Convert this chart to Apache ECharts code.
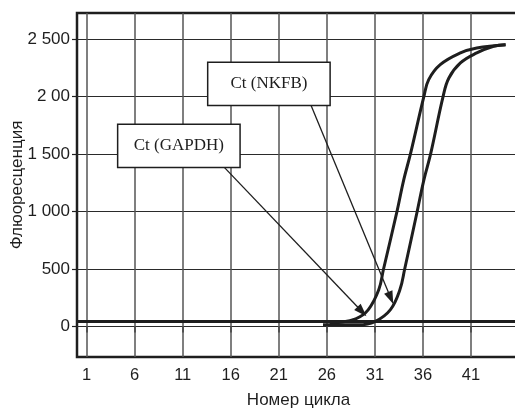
<!DOCTYPE html>
<html>
<head>
<meta charset="utf-8">
<script src="https://cdn.jsdelivr.net/npm/echarts@6/dist/echarts.min.js"></script>
<style>
  html, body { margin: 0; padding: 0; background: #fff; }
  #chart { width: 515px; height: 409px; }
</style>
</head>
<body>
<div id="chart"></div>
<script>
// Amplification curves: fluorescence versus PCR cycle number
const cycleTicks = [1, 6, 11, 16, 21, 26, 31, 36, 41];
const fluorTicks = [0, 500, 1000, 1500, 2000, 2500];
const fluorTickLabels = ['0', '500', '1 000', '1 500', '2 00', '2 500'];

// [cycle, fluorescence]
const gapdhCurve = [
  [26.3, 23], [26.9, 30], [29.0, 67], [30.3, 145], [31.4, 319], [31.9, 500],
  [33.3, 1000], [34.0, 1275], [34.7, 1500], [36.1, 2000], [36.6, 2146],
  [37.8, 2276], [39.9, 2378], [41.6, 2421], [44.6, 2450]
];
const nkfbCurve = [
  [25.6, 15], [29.3, 15], [31.0, 43], [32.6, 145], [33.6, 319], [34.1, 500],
  [35.4, 1000], [36.1, 1275], [36.8, 1500], [38.1, 2000], [38.7, 2160],
  [39.9, 2291], [41.6, 2378], [43.35, 2436], [44.6, 2450]
];

const thresholdLevel = 45;

// Callout labels: box corners and arrow endpoints in [cycle, fluorescence]
const calloutLabels = ['Ct (GAPDH)', 'Ct (NKFB)'];
const calloutBoxFrom = [[4.23, 1757], [13.6, 2296]];
const calloutBoxTo = [[16.97, 1383], [26.34, 1922]];
const arrowFrom = [[15.33, 1383], [24.36, 1922]];
const arrowTo = [[29.65, 130], [32.65, 247]];

const ink = '#1e1e1e';
const sans = 'Liberation Sans, Arial, sans-serif';

const chart = echarts.init(document.getElementById('chart'));

const curveStyle = { color: ink, width: 3 };

chart.setOption({
  animation: false,
  backgroundColor: '#fff',
  grid: {
    left: 77, right: -5, top: 13, bottom: 52,
    containLabel: false, outerBoundsMode: 'none',
    show: true, borderColor: ink, borderWidth: 2.5, backgroundColor: 'transparent'
  },
  xAxis: {
    type: 'value',
    min: 0, max: 46.1,
    name: 'Номер цикла',
    nameLocation: 'middle',
    nameGap: 35,
    nameMoveOverlap: false,
    nameTextStyle: { fontFamily: sans, fontSize: 17, color: ink },
    axisLine: { show: false },
    axisTick: { show: true, customValues: cycleTicks, length: 6, inside: false,
                lineStyle: { color: '#444', width: 1.5 } },
    axisLabel: { customValues: cycleTicks, fontFamily: sans, fontSize: 16.5, color: ink, margin: 10 },
    splitLine: { show: true, lineStyle: { color: '#555', width: 1.5 } }
  },
  yAxis: {
    type: 'value',
    min: -265, max: 2725,
    name: 'Флюоресценция',
    nameLocation: 'middle',
    nameGap: 51,
    nameMoveOverlap: false,
    nameTextStyle: { fontFamily: sans, fontSize: 17, color: ink },
    axisLine: { show: false },
    axisTick: { show: true, customValues: fluorTicks, length: 5, inside: false,
                lineStyle: { color: ink, width: 1.2 } },
    axisLabel: {
      customValues: fluorTicks, fontFamily: sans, fontSize: 17, color: ink, margin: 7,
      formatter: v => fluorTickLabels[fluorTicks.indexOf(v)]
    },
    splitLine: { show: true, lineStyle: { color: '#2a2a2a', width: 1.2 } }
  },
  series: [
    {
      name: 'GAPDH', type: 'line', data: gapdhCurve, showSymbol: false,
      smooth: 0.4, lineStyle: curveStyle, z: 3,
      markLine: {
        silent: true, symbol: 'none', label: { show: false },
        lineStyle: { color: ink, width: 3, type: 'solid' },
        data: [{ yAxis: thresholdLevel }]
      }
    },
    {
      name: 'NKFB', type: 'line', data: nkfbCurve, showSymbol: false,
      smooth: 0.4, lineStyle: curveStyle, z: 3
    },
    {
      // callout boxes and arrows
      name: 'callouts', type: 'line', data: [], z: 4,
      markArea: {
        silent: true,
        itemStyle: { color: '#fff', borderColor: ink, borderWidth: 1.5 },
        label: { show: true, position: 'inside', fontFamily: 'Liberation Serif, Times New Roman, serif',
                 fontSize: 17, color: ink },
        data: calloutLabels.map((t, i) => [
          { name: t, coord: calloutBoxFrom[i] },
          { coord: calloutBoxTo[i] }
        ])
      },
      markLine: {
        silent: true,
        symbol: ['none', 'triangle'],
        symbolSize: [9, 13],
        label: { show: false },
        lineStyle: { color: ink, width: 1.3, type: 'solid' },
        data: arrowFrom.map((p, i) => [{ coord: p }, { coord: arrowTo[i] }])
      }
    }
  ]
});
</script>
</body>
</html>
